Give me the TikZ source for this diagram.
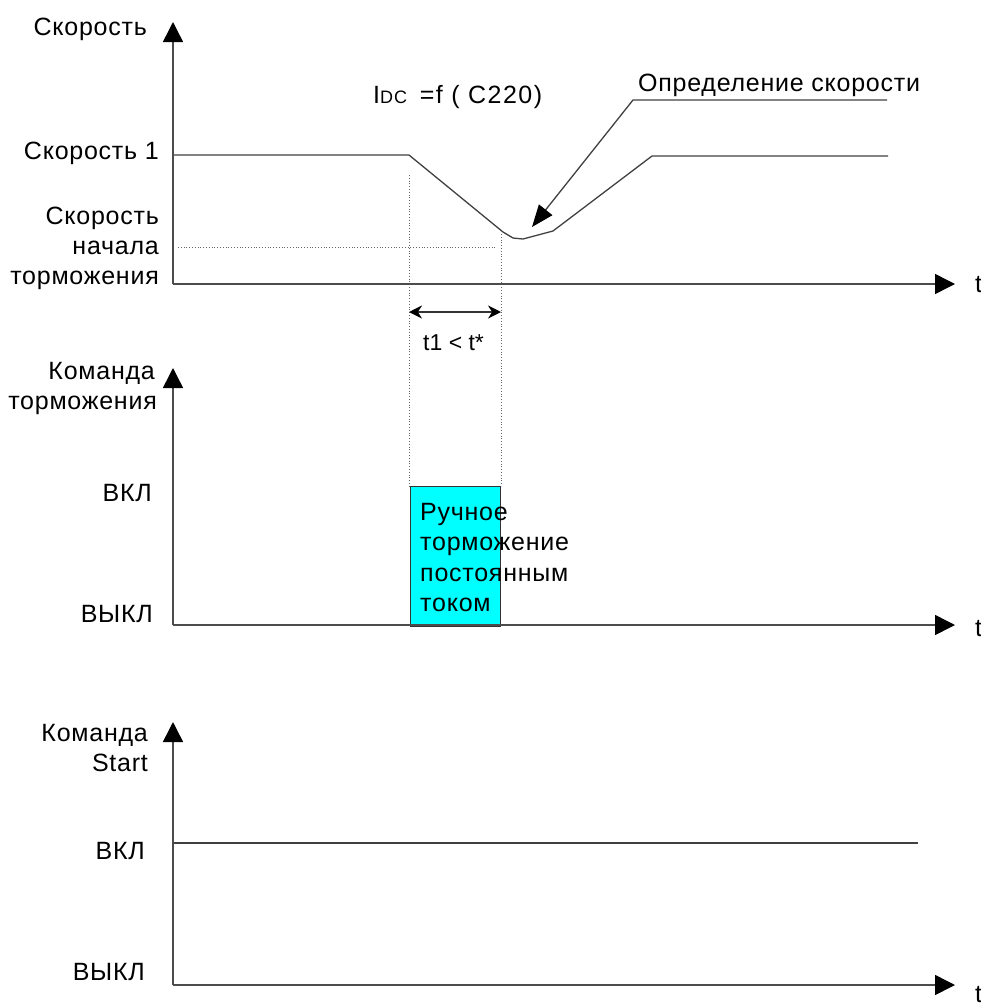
\documentclass[tikz,border=0pt]{standalone}
\usepackage{fontspec}
\setmainfont{Liberation Sans}[LetterSpace=3]
\usetikzlibrary{arrows.meta}
\definecolor{aqua}{RGB}{0,255,255}
\begin{document}
\begin{tikzpicture}[x=1pt,y=-1pt,
  lbl/.style={inner sep=0pt, anchor=base east, font=\fontsize{25}{30}\selectfont, text=black},
  txt/.style={inner sep=0pt, anchor=base west, font=\fontsize{25}{30}\selectfont, text=black},
  axis/.style={line width=1.5pt, draw=black!70, -{Triangle[length=20pt,width=20pt,fill=black,color=black]}},
  curve/.style={line width=1.3pt, draw=black!75},
  guide/.style={line width=0.8pt, dotted, draw=black!60},
  brake/.style={draw=black!80, line width=1pt, fill=aqua, minimum width=90pt, minimum height=140pt, inner sep=0pt, anchor=north west}]
\useasboundingbox (0,0) rectangle (981,1007);

% ---------- panel 1 : speed ----------
\coordinate (o1) at (173,284);
\coordinate (y1) at (173,22);
\coordinate (x1) at (955,284);
\node[lbl] (sp) at (147,35) {Скорость};
\node[lbl] (sp1) at (159,159) {Скорость 1};
\node[lbl] (spb1) at (159,224) {Скорость};
\node[lbl] (spb2) at (159,254) {начала};
\node[lbl] (spb3) at (159,284) {торможения};
\node[txt] (tA) at (975,292) {t};

\coordinate (c0) at (173,155);
\coordinate (c1) at (409,155);
\coordinate (c2) at (503,232);
\coordinate (c3) at (513,238);
\coordinate (c4) at (523,239);
\coordinate (c5) at (553,231);
\coordinate (c6) at (652,156);
\coordinate (c7) at (888,156);
\draw[curve] (c0) -- (c1) -- (c2) -- (c3) -- (c4) -- (c5) -- (c6) -- (c7);

\coordinate (g0) at (178,247);
\coordinate (g1) at (497,247);
\draw[guide] (g0) -- (g1);
\coordinate (v1a) at (409,175);
\coordinate (v1b) at (409,486);
\coordinate (v2a) at (501,234);
\coordinate (v2b) at (501,486);
\draw[guide] (v1a) -- (v1b);
\draw[guide] (v2a) -- (v2b);

\node[txt, font=\fontsize{25}{30}\selectfont\addfontfeature{LetterSpace=6}] (idc) at (373,103) {I{\fontsize{18}{18}\selectfont DC}\, =f ( C220)};
\node[txt] (det) at (638,91) {Определение скорости};
\coordinate (a0) at (887,100);
\coordinate (a1) at (633,100);
\coordinate (a2) at (532,227);
\draw[curve, -{Triangle[length=22pt,width=17pt,color=black]}] (a0) -- (a1) -- (a2);

\coordinate (d0) at (409,312);
\coordinate (d1) at (501,312);
\draw[line width=2pt, draw=black!80, {Stealth[length=13pt,width=13pt,color=black]}-{Stealth[length=13pt,width=13pt,color=black]}] (d0) -- (d1);
\node[txt, font=\fontsize{23}{26}\selectfont\addfontfeature{LetterSpace=0}] (tt) at (423,350) {t1 < t*};

\draw[axis] (o1) -- (y1);
\draw[axis] (o1) -- (x1);

% ---------- panel 2 : brake command ----------
\coordinate (o2) at (173,625);
\coordinate (y2) at (173,368);
\coordinate (x2) at (955,625);
\node[brake] (box) at (410,486) {};
\node[lbl] (kb1) at (155,379) {Команда};
\node[lbl] (kb2) at (157,409) {торможения};
\node[lbl] (on2) at (152,501) {ВКЛ};
\node[lbl] (off2) at (153,622) {ВЫКЛ};
\node[txt] (tB) at (975,636) {t};
\draw[axis] (o2) -- (y2);
\draw[axis] (o2) -- (x2);
\node[txt] (r1) at (420,520) {Ручное};
\node[txt] (r2) at (420,550) {торможение};
\node[txt] (r3) at (420,581) {постоянным};
\node[txt] (r4) at (420,611) {током};

% ---------- panel 3 : start command ----------
\coordinate (o3) at (173,985);
\coordinate (y3) at (173,722);
\coordinate (x3) at (955,985);
\node[lbl] (ks1) at (148,741) {Команда};
\node[lbl] (ks2) at (148,771) {Start};
\node[lbl] (on3) at (145,859) {ВКЛ};
\node[lbl] (off3) at (145,980) {ВЫКЛ};
\node[txt] (tC) at (975,1002) {t};
\coordinate (s0) at (173,843);
\coordinate (s1) at (918,843);
\draw[curve] (s0) -- (s1);
\draw[axis] (o3) -- (y3);
\draw[axis] (o3) -- (x3);
\end{tikzpicture}
\end{document}
